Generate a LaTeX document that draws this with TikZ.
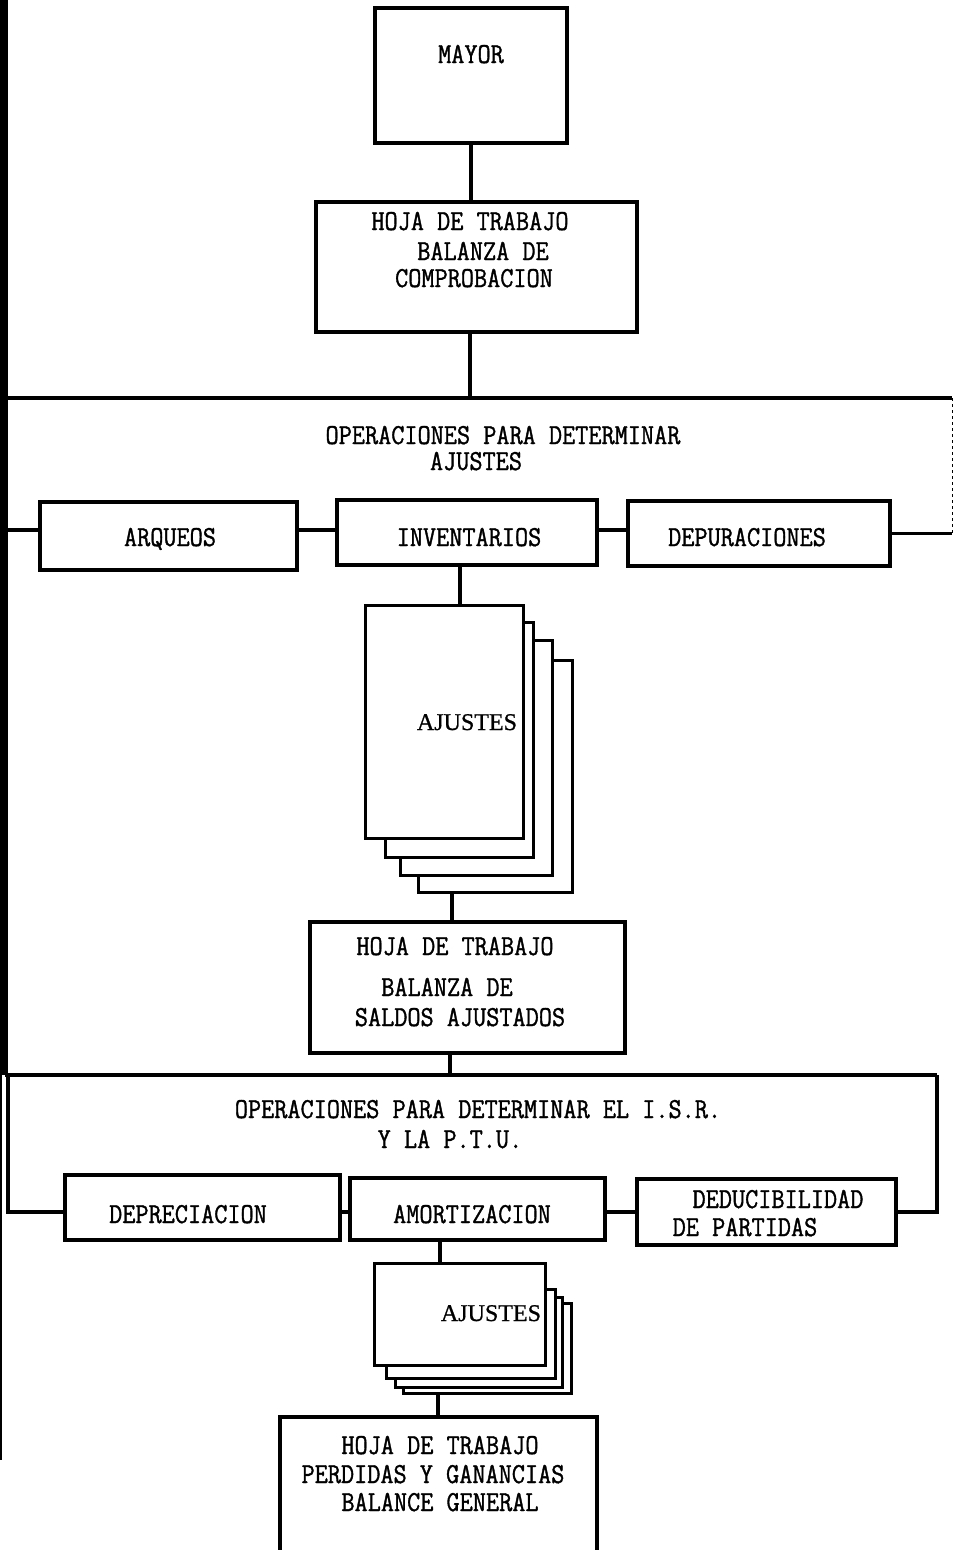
\documentclass[tikz,border=0pt]{standalone}
\usepackage{fontspec}
\setmainfont{Liberation Serif}
\newfontfamily\twfont[FakeStretch=0.88,FakeBold=1.2]{Latin Modern Mono}
\newfontfamily\sheetfont[FakeBold=0.8]{Liberation Serif}
\begin{document}
\begin{tikzpicture}[x=1pt,y=-1pt,
  box/.style={draw, line width=3.4pt, inner sep=0pt, outer sep=0pt},
  sheet/.style={draw, fill=white, line width=3pt, inner sep=0pt, outer sep=0pt},
  wire/.style={line width=3.4pt},
  txt/.style={anchor=base, inner sep=0pt, font=\twfont\fontsize{29}{29}\selectfont},
  sheettxt/.style={anchor=base, inner sep=0pt, font=\sheetfont\fontsize{24}{24}\selectfont}]
\useasboundingbox (0,0) rectangle (955,1550);

% dark left margin of the sheet
\fill (0,0) rectangle (8,1075);
\draw[line width=2pt] (1,1075) -- (1,1460);

% ---------- top boxes ----------
\node[box, minimum width=192pt, minimum height=135pt] (mayor) at (471,75.5) {};
\node[txt] (tmayor) at (471,63) {MAYOR};

\node[box, minimum width=321pt, minimum height=130pt] (hoja1) at (476.5,267) {};
\node[txt] (h1a) at (470,230) {HOJA DE TRABAJO};
\node[txt] (h1b) at (483,260) {BALANZA DE};
\node[txt] (h1c) at (474,287) {COMPROBACION};

\draw[wire] (mayor.south) -- (mayor.south |- hoja1.north);

% ---------- first group ----------
\coordinate (j1) at (470,398);
\coordinate (b1l) at (6,398);
\coordinate (b1r) at (952,398);
\coordinate (r1) at (0,530);
\draw[wire] (hoja1.south -| j1) -- (j1);
\draw[wire] (b1l) -- (b1r);

\node[txt] (op1a) at (503,444) {OPERACIONES PARA DETERMINAR};
\node[txt] (op1b) at (476,470) {AJUSTES};

\node[box, minimum width=257pt, minimum height=68pt] (arqueos) at (168.5,536) {};
\node[txt] (tarq) at (170,546) {ARQUEOS};
\node[box, minimum width=260pt, minimum height=65pt] (invent) at (467,532.5) {};
\node[txt] (tinv) at (469,546) {INVENTARIOS};
\node[box, minimum width=262pt, minimum height=65pt] (depur) at (759,533.5) {};
\node[txt] (tdep) at (747,546) {DEPURACIONES};

\draw[wire] (b1l) |- (arqueos.west |- r1);
\draw[wire] (arqueos.east |- r1) -- (invent.west |- r1);
\draw[wire] (invent.east |- r1) -- (depur.west |- r1);
\draw[line width=1pt, dashed] (b1r) -- (b1r |- depur.east);
\draw[wire] (b1r |- depur.east) -- (depur.east);

% ---------- first stack of sheets ----------
\node[sheet, minimum width=154pt, minimum height=232pt] (p4) at (495,776) {};
\node[sheet, minimum width=152pt, minimum height=235pt] (p3) at (476,757.5) {};
\node[sheet, minimum width=148pt, minimum height=235pt] (p2) at (459,739.5) {};
\node[sheet, minimum width=158pt, minimum height=233pt] (p1) at (444,721.5) {};
\node[sheettxt] (tp1) at (467,730) {AJUSTES};

\coordinate (c1) at (460,0);
\draw[wire] (invent.south -| c1) -- (p1.north -| c1);

% ---------- second worksheet ----------
\node[box, minimum width=315pt, minimum height=131pt] (hoja2) at (467.5,987.5) {};
\node[txt] (h2a) at (455,955) {HOJA DE TRABAJO};
\node[txt] (h2b) at (447,996) {BALANZA DE};
\node[txt] (h2c) at (460,1026) {SALDOS AJUSTADOS};

\coordinate (c2) at (452,0);
\draw[wire] (p4.south -| c2) -- (hoja2.north -| c2);

% ---------- second group ----------
\coordinate (j2) at (450,1075);
\coordinate (b2l) at (8,1075);
\coordinate (b2r) at (937,1075);
\coordinate (r2) at (0,1212);
\draw[wire] (hoja2.south -| j2) -- (j2);
\draw[wire] (5,1075) -- (b2r);

\node[txt] (op2a) at (478,1118) {OPERACIONES PARA DETERMINAR EL I.S.R.};
\node[txt] (op2b) at (450,1148) {Y LA P.T.U.};

\node[box, minimum width=275pt, minimum height=65pt] (deprec) at (202.5,1207.5) {};
\node[txt] (tdpr) at (188,1223) {DEPRECIACION};
\node[box, minimum width=255pt, minimum height=62pt] (amort) at (477.5,1209) {};
\node[txt] (tam) at (472,1223) {AMORTIZACION};
\node[box, minimum width=259pt, minimum height=66pt] (deduc) at (766.5,1212) {};
\node[txt] (tdda) at (778,1208) {DEDUCIBILIDAD};
\node[txt] (tddb) at (745,1236) {DE PARTIDAS};

\draw[wire] (b2l) |- (deprec.west |- r2);
\draw[wire] (deprec.east |- r2) -- (amort.west |- r2);
\draw[wire] (amort.east |- r2) -- (deduc.west |- r2);
\draw[wire] (b2r) |- (deduc.east |- r2);

% ---------- second stack of sheets ----------
\node[sheet, minimum width=168pt, minimum height=90pt] (q4) at (487,1348) {};
\node[sheet, minimum width=167pt, minimum height=90pt] (q3) at (478.5,1342) {};
\node[sheet, minimum width=169pt, minimum height=89pt] (q2) at (470.5,1333.5) {};
\node[sheet, minimum width=171pt, minimum height=102pt] (q1) at (459.5,1314) {};
\node[sheettxt] (tq1) at (491,1321) {AJUSTES};

\coordinate (c3) at (440,0);
\draw[wire] (amort.south -| c3) -- (q1.north -| c3);

% ---------- final worksheet ----------
\node[box, minimum width=317pt, minimum height=143pt] (final) at (438.5,1488.5) {};
\node[txt] (fa) at (440,1454) {HOJA DE TRABAJO};
\node[txt] (fb) at (433,1483) {PERDIDAS Y GANANCIAS};
\node[txt] (fc) at (440,1511) {BALANCE GENERAL};

\coordinate (c4) at (438,0);
\draw[wire] (q4.south -| c4) -- (final.north -| c4);
\end{tikzpicture}
\end{document}
